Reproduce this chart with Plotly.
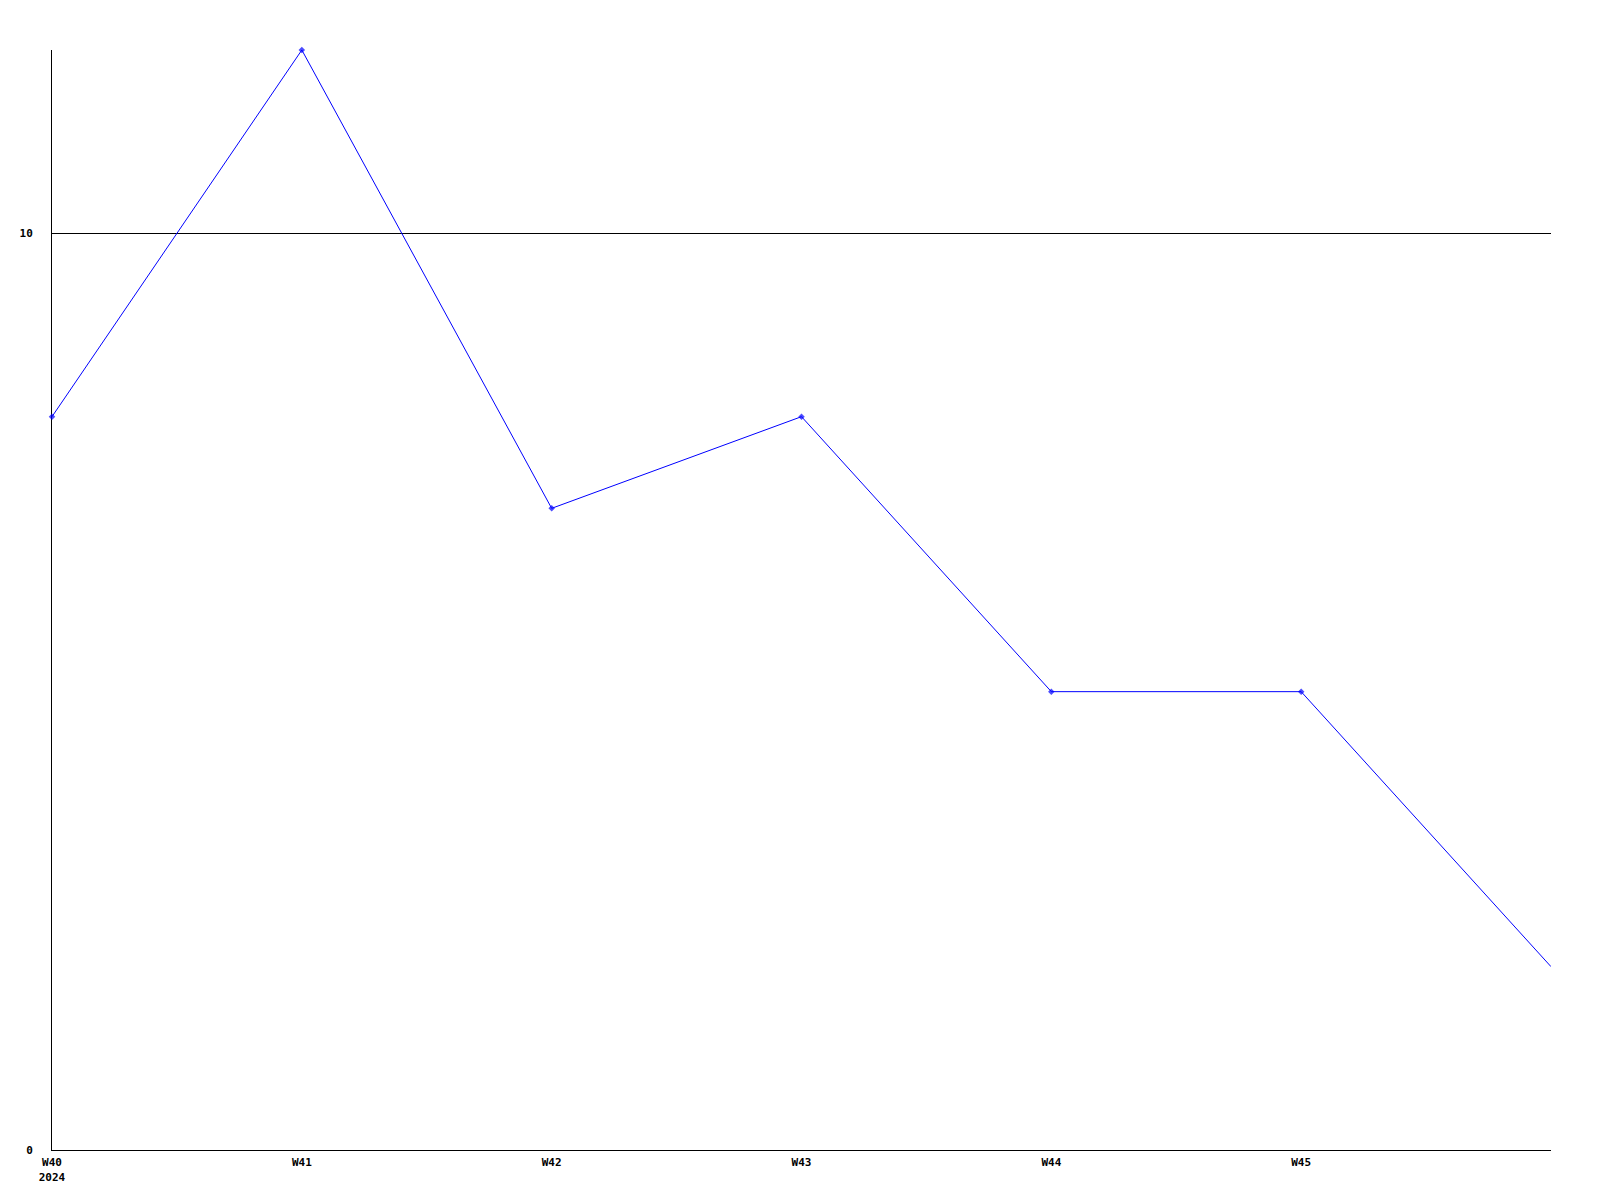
import plotly.graph_objects as go

weeks = ["W40", "W41", "W42", "W43", "W44", "W45", "W46"]
values = [8, 12, 7, 8, 5, 5, 2]
tick_weeks = ["W40", "W41", "W42", "W43", "W44", "W45"]
tick_text = ["W40<br>2024", "W41", "W42", "W43", "W44", "W45"]
y_ticks = [0, 10]

# last point is drawn without a marker in the reference
marker_sizes = [5] * (len(values) - 1) + [0]

fig = go.Figure()
fig.add_trace(go.Scatter(
    x=weeks, y=values, mode="lines+markers",
    line=dict(color="#0000ff", width=1),
    marker=dict(color="#0000ff", size=marker_sizes, symbol="diamond",
                line=dict(width=0)),
    cliponaxis=False,
))

font = dict(family="DejaVu Sans Mono", size=11, color="black", weight="bold")

# the page body has an 8px default margin, so shift plot by -8px
fig.update_layout(
    width=1592, height=1192,
    margin=dict(l=42, r=49, t=42, b=50),
    plot_bgcolor="white", paper_bgcolor="white",
    showlegend=False,
    font=font,
)
fig.update_xaxes(
    type="category", range=[0, 6],
    tickmode="array", tickvals=tick_weeks, ticktext=tick_text,
    showgrid=False, zeroline=False,
    showline=True, linecolor="black", linewidth=1,
    ticks="", ticklabelstandoff=2,
    tickfont=font, layer="below traces",
)
fig.update_yaxes(
    range=[0, 12], tickmode="array", tickvals=y_ticks,
    showgrid=True, gridcolor="black", gridwidth=1,
    zeroline=False,
    showline=True, linecolor="black", linewidth=1,
    ticks="", ticklabelstandoff=16,
    tickfont=font, layer="below traces",
)

fig.write_html("out.html")
